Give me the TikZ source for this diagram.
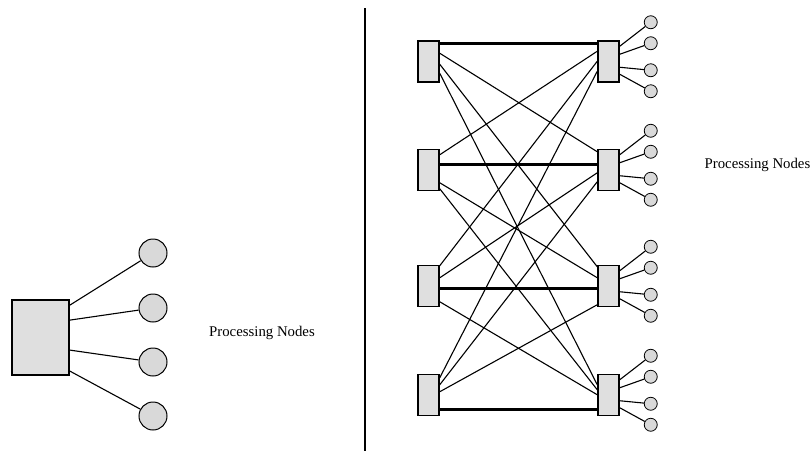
\documentclass[tikz,border=0pt]{standalone}
\usepackage{fontspec}
\setmainfont{Liberation Serif}
\usetikzlibrary{calc}
\begin{document}
\begin{tikzpicture}[x=1pt,y=-1pt,
  bigbox/.style={draw,line width=1.8pt,fill=gray!25,minimum width=57pt,minimum height=75pt,inner sep=0pt},
  bigpe/.style={circle,draw,line width=1pt,fill=gray!30,minimum size=28pt,inner sep=0pt},
  swbox/.style={draw,line width=1.5pt,fill=gray!25,minimum width=21pt,minimum height=41pt,inner sep=0pt},
  pe/.style={circle,draw,line width=0.8pt,fill=gray!30,minimum size=13pt,inner sep=0pt},
  thin/.style={line width=1.1pt},
  thickrow/.style={line width=2.8pt},
  lbl/.style={font=\fontsize{14.8}{16}\selectfont,inner sep=0pt}
]
\useasboundingbox (0,0) rectangle (812,451);
% left part
\node[bigbox] (B) at (40.5,337.5) {};
\node[bigpe] (c1) at (153,253) {};
\node[bigpe] (c2) at (153,308) {};
\node[bigpe] (c3) at (153,362) {};
\node[bigpe] (c4) at (153,416) {};
\draw[thin] ([yshift=-6pt]B.north east) -- (c1);
\draw[thin] ([yshift=-21pt]B.north east) -- (c2);
\draw[thin] ([yshift=-51pt]B.north east) -- (c3);
\draw[thin] ([yshift=-72pt]B.north east) -- (c4);
\node[lbl] (t1) at (262,333) {Processing Nodes};
% divider
\coordinate (vtop) at (365,8);
\coordinate (vbot) at (365,451);
\draw[line width=2pt] (vtop) -- (vbot);
% right part: switches
\foreach \i/\yc in {1/61.5,2/170,3/286,4/395}{
  \node[swbox] (L\i) at (428.5,\yc) {};
  \node[swbox] (R\i) at (608.5,\yc) {};
}
% processing nodes on right switches
\foreach \i in {1,2,3,4}{
  \path (R\i.north east) ++(31,-18) node[pe] (p\i a) {};
  \path (R\i.north east) ++(31,3) node[pe] (p\i b) {};
  \path (R\i.north east) ++(31,30) node[pe] (p\i c) {};
  \path (R\i.north east) ++(31,51) node[pe] (p\i d) {};
  \draw[thin] ([yshift=-6pt]R\i.north east) -- (p\i a);
  \draw[thin] ([yshift=-14pt]R\i.north east) -- (p\i b);
  \draw[thin] ([yshift=-27pt]R\i.north east) -- (p\i c);
  \draw[thin] ([yshift=-34pt]R\i.north east) -- (p\i d);
}
% straight thick links
\draw[thickrow] ([yshift=-3pt]L1.north east) -- ([yshift=-3pt]R1.north west);
\draw[thickrow] ([yshift=-16pt]L2.north east) -- ([yshift=-16pt]R2.north west);
\draw[thickrow] ([yshift=-24pt]L3.north east) -- ([yshift=-24pt]R3.north west);
\draw[thickrow] ([yshift=-36pt]L4.north east) -- ([yshift=-36pt]R4.north west);
% cross links
\draw[thin] ([yshift=-13pt]L1.north east) -- ([yshift=-3pt]R2.north west);
\draw[thin] ([yshift=-24pt]L1.north east) -- ([yshift=-2pt]R3.north west);
\draw[thin] ([yshift=-33pt]L1.north east) -- ([yshift=-11pt]R4.north west);
\draw[thin] ([yshift=-6pt]L2.north east) -- ([yshift=-11pt]R1.north west);
\draw[thin] ([yshift=-34pt]L2.north east) -- ([yshift=-13pt]R3.north west);
\draw[thin] ([yshift=-40pt]L2.north east) -- ([yshift=-16pt]R4.north west);
\draw[thin] ([yshift=-1pt]L3.north east) -- ([yshift=-21pt]R1.north west);
\draw[thin] ([yshift=-13pt]L3.north east) -- ([yshift=-24pt]R2.north west);
\draw[thin] ([yshift=-37pt]L3.north east) -- ([yshift=-21pt]R4.north west);
\draw[thin] ([yshift=-4pt]L4.north east) -- ([yshift=-31pt]R1.north west);
\draw[thin] ([yshift=-11pt]L4.north east) -- ([yshift=-33pt]R2.north west);
\draw[thin] ([yshift=-18pt]L4.north east) -- ([yshift=-40pt]R3.north west);
\node[lbl] (t2) at (757.5,165) {Processing Nodes};
\end{tikzpicture}
\end{document}
